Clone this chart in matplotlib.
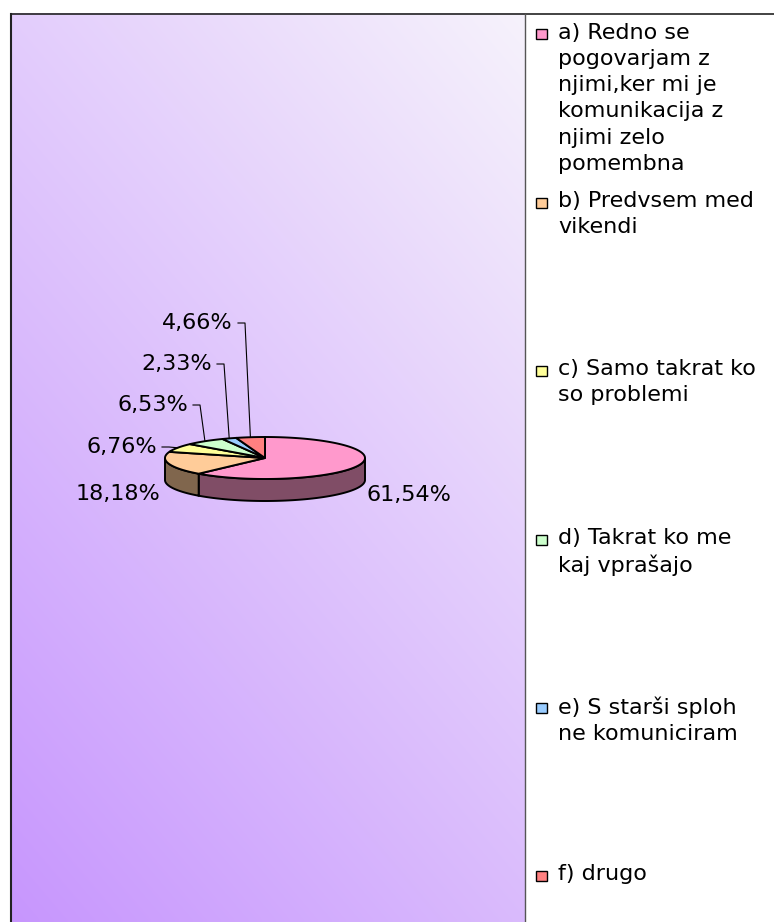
import numpy as np
import matplotlib
matplotlib.use("Agg")
import matplotlib.pyplot as plt
from matplotlib.patches import Polygon, Rectangle
from matplotlib.colors import to_rgb

# data
categories = ["a) Redno se\npogovarjam z\nnjimi,ker mi je\nkomunikacija z\nnjimi zelo\npomembna",
              "b) Predvsem med\nvikendi",
              "c) Samo takrat ko\nso problemi",
              "d) Takrat ko me\nkaj vprašajo",
              "e) S starši sploh\nne komuniciram",
              "f) drugo"]
percents = [61.54, 18.18, 6.76, 6.53, 2.33, 4.66]
pct_labels = ["61,54%", "18,18%", "6,76%", "6,53%", "2,33%", "4,66%"]
colors = ["#ff99cc", "#ffcc99", "#ffff99", "#ccffcc", "#99ccff", "#ff8080"]

# layout (pixels)
W, H = 774, 922
px0, px1, py0 = 11, 525, 14
cx, cy, ra, rb, depth = 265, 458, 100, 21, 22
label_pos = [(366, 495, "left"), (160, 494, "right"), (157, 447, "right"),
             (188, 405, "right"), (212, 364, "right"), (233, 323, "right")]
has_leader = [False, False, True, True, True, True]
legend_y = [39.5, 207.5, 376, 544.5, 713, 881]
fs = 16

fig = plt.figure(figsize=(W / 100, H / 100), dpi=100)
ax = fig.add_axes([0, 0, 1, 1])

# gradient plot area
xs = np.linspace(0, 1, 200)
ys = np.linspace(1, 0, 200)
XX, YY = np.meshgrid(xs, ys)
t = 0.4 * XX + 0.6 * YY
dark = np.array(to_rgb("#c796fe"))
light = np.array(to_rgb("#f6f2fb"))
img = dark + t[..., None] * (light - dark)
ax.imshow(img, extent=[px0, px1, H, py0], aspect="auto",
          interpolation="bilinear", zorder=0)
ax.set_xlim(0, W)
ax.set_ylim(H, 0)
ax.axis("off")

ax.plot([px0, px0], [H, py0], color="#222222", lw=1.5, zorder=1)
ax.plot([px0, W], [py0, py0], color="#222222", lw=1.2, zorder=1)
ax.plot([px1, px1], [py0, H], color="#555555", lw=1.0, zorder=1)


def rim(th):
    th = np.radians(th)
    return cx + ra * np.cos(th), cy - rb * np.sin(th)


bounds = 90 - 3.6 * np.concatenate([[0], np.cumsum(percents)])

# side walls (front half only)
for i, c in enumerate(colors):
    hi, lo = bounds[i], bounds[i + 1]
    side = tuple(0.5 * np.array(to_rgb(c)))
    for k in (-1, 0, 1):
        s = max(lo, -180 + 360 * k)
        e = min(hi, 360 * k)
        if e <= s:
            continue
        th = np.linspace(s, e, 80)
        x, y = rim(th)
        pts = np.column_stack([np.concatenate([x, x[::-1]]),
                               np.concatenate([y, y[::-1] + depth])])
        ax.add_patch(Polygon(pts, closed=True, facecolor=side,
                             edgecolor="black", lw=1.4, zorder=2))

# top faces
for i, c in enumerate(colors):
    hi, lo = bounds[i], bounds[i + 1]
    th = np.linspace(hi, lo, 120)
    x, y = rim(th)
    pts = np.column_stack([np.concatenate([[cx], x]), np.concatenate([[cy], y])])
    ax.add_patch(Polygon(pts, closed=True, facecolor=c,
                         edgecolor="black", lw=1.4, zorder=3))

# percentage labels
for i, lab in enumerate(pct_labels):
    x, y, ha = label_pos[i]
    ax.text(x, y, lab, ha=ha, va="center", fontsize=fs,
            family="DejaVu Sans", color="black", zorder=4)
    if has_leader[i]:
        mid = (bounds[i] + bounds[i + 1]) / 2
        rx, ry = rim(mid)
        ax.plot([x + 5, x + 12, rx], [y, y, ry], color="black",
                lw=0.8, zorder=4)

# legend
for i, c in enumerate(categories):
    yb = legend_y[i]
    ax.add_patch(Rectangle((536, yb - 10), 11, 10, facecolor=colors[i],
                           edgecolor="black", lw=1.0, zorder=4))
    ax.text(558, yb - 0.76 * fs * 100 / 72, c, ha="left", va="top",
            fontsize=fs, family="DejaVu Sans", linespacing=1.39,
            color="black", zorder=4)

fig.savefig("out.png", dpi=100)
